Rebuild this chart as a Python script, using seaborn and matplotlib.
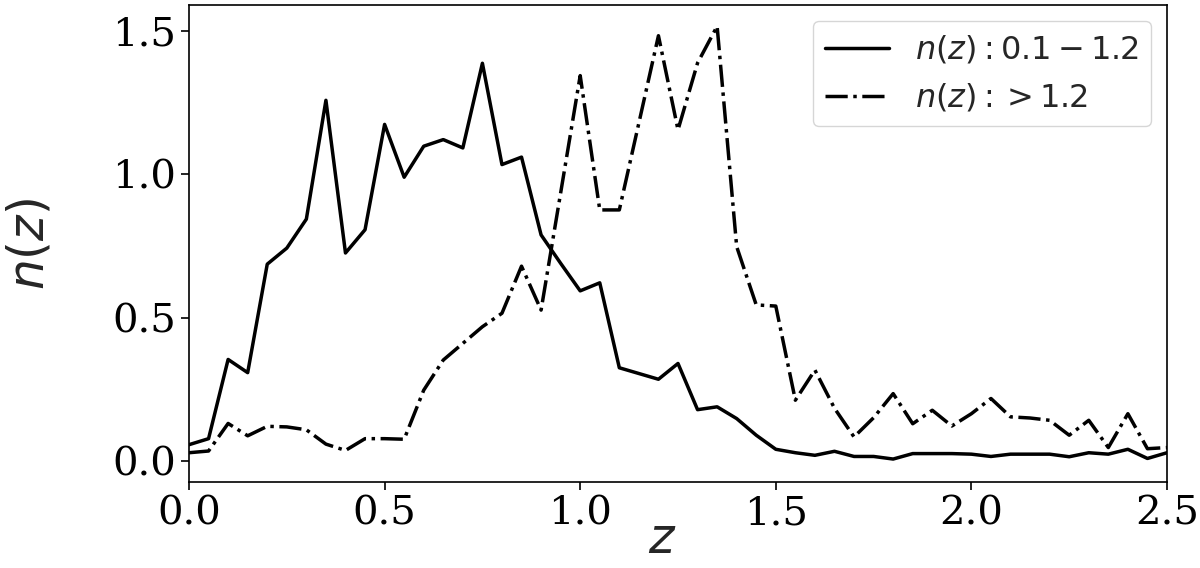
import matplotlib
matplotlib.use("Agg")
import matplotlib.pyplot as plt
import seaborn as sns
import pandas as pd

z = [0.00, 0.05, 0.10, 0.15, 0.20, 0.25, 0.30, 0.35, 0.40, 0.45,
     0.50, 0.55, 0.60, 0.65, 0.70, 0.75, 0.80, 0.85, 0.90, 0.95,
     1.00, 1.05, 1.10, 1.15, 1.20, 1.25, 1.30, 1.35, 1.40, 1.45,
     1.50, 1.55, 1.60, 1.65, 1.70, 1.75, 1.80, 1.85, 1.90, 1.95,
     2.00, 2.05, 2.10, 2.15, 2.20, 2.25, 2.30, 2.35, 2.40, 2.45, 2.50]

nz_low = [0.058, 0.079, 0.355, 0.309, 0.687, 0.743, 0.844, 1.258, 0.726, 0.807,
          1.174, 0.990, 1.098, 1.121, 1.092, 1.387, 1.034, 1.060, 0.789, 0.690,
          0.594, 0.622, 0.326, 0.306, 0.286, 0.341, 0.180, 0.190, 0.149, 0.091,
          0.042, 0.030, 0.021, 0.035, 0.017, 0.017, 0.008, 0.027, 0.027, 0.027,
          0.025, 0.017, 0.025, 0.025, 0.025, 0.016, 0.030, 0.025, 0.042, 0.010, 0.030]

nz_high = [0.030, 0.036, 0.132, 0.089, 0.122, 0.120, 0.110, 0.060, 0.038, 0.079,
           0.079, 0.077, 0.248, 0.353, 0.411, 0.469, 0.516, 0.680, 0.527, 0.935,
           1.344, 0.876, 0.876, 1.179, 1.483, 1.155, 1.388, 1.516, 0.748, 0.545,
           0.541, 0.213, 0.318, 0.185, 0.085, 0.152, 0.236, 0.131, 0.178, 0.123,
           0.166, 0.219, 0.155, 0.151, 0.143, 0.091, 0.143, 0.048, 0.166, 0.044, 0.048]

label_low = r"$n(z): 0.1-1.2$"
label_high = r"$n(z): >1.2$"
xticks = [0.0, 0.5, 1.0, 1.5, 2.0, 2.5]
yticks = [0.0, 0.5, 1.0, 1.5]

sns.set_style("ticks")
plt.rcParams["font.family"] = ["DejaVu Serif"]
plt.rcParams["mathtext.fontset"] = "dejavusans"

df_low = pd.DataFrame({"z": z, "nz": nz_low})
df_high = pd.DataFrame({"z": z, "nz": nz_high})

fig = plt.figure(figsize=(12, 5.68), dpi=100)
ax = fig.add_axes([0.1575, 0.1514, 0.815, 0.8398])

sns.lineplot(data=df_low, x="z", y="nz", color="black", linewidth=2.5,
             linestyle="-", label=label_low, ax=ax)
sns.lineplot(data=df_high, x="z", y="nz", color="black", linewidth=2.5,
             linestyle="-.", label=label_high, ax=ax)

ax.set_xlim(0, 2.5)
ax.set_ylim(-0.072, 1.59)
ax.set_xticks(xticks)
ax.set_yticks(yticks)
ax.set_xticklabels([f"{t:.1f}" for t in xticks])
ax.set_yticklabels([f"{t:.1f}" for t in yticks])
ax.tick_params(axis="both", labelsize=29, length=6, width=1.2, direction="out",
               color="black", labelcolor="black")
for s in ax.spines.values():
    s.set_visible(True)
    s.set_color("black")
    s.set_linewidth(1.2)

ax.set_xlabel(r"$z$", fontsize=35)
ax.set_ylabel(r"$n(z)$", fontsize=35)
ax.yaxis.set_label_coords(-0.139, 0.5)
ax.xaxis.set_label_coords(0.4836, -0.072)

leg = ax.legend(loc="upper right", fontsize=23, frameon=True, fancybox=True,
                framealpha=0.8, edgecolor="#cccccc", handlelength=2.0)

fig.savefig("out.png", dpi=100)
